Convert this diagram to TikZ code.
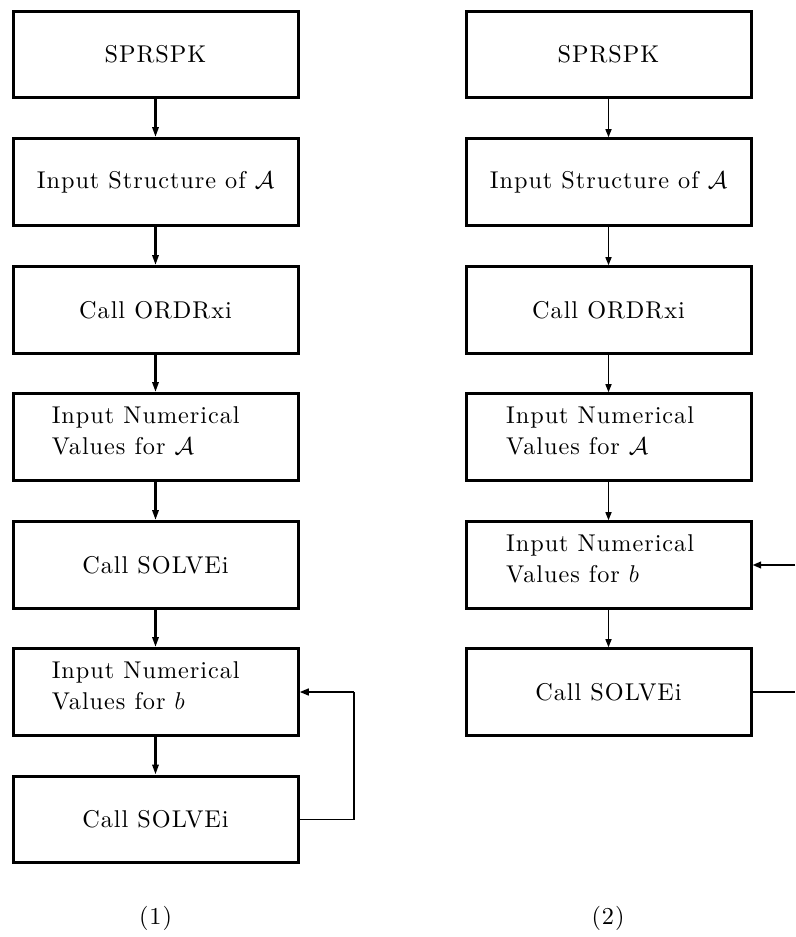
\RequirePackage{fix-cm}
\documentclass[tikz,border=0pt]{standalone}
\usepackage{fontspec}
\setmainfont{lmroman10-regular.otf}[LetterSpace=4]
\usetikzlibrary{arrows.meta}

\tikzset{
  box/.style={draw, line width=2.25pt, minimum width=213.75pt, minimum height=64.9pt,
              inner sep=0pt, font=\flowfont},
  txt/.style={anchor=west, align=left, inner sep=0pt, font=\flowfont},
  thickarrow/.style={line width=2.2pt, -{Triangle[length=7.5pt,width=4.5pt]}},
  thinarrow/.style={line width=1pt, -{Triangle[length=6pt,width=4.5pt]}},
  loopline/.style={line width=1.2pt},
  caption/.style={font=\flowfont, inner sep=0pt}
}
\newcommand{\flowfont}{\fontsize{18.2}{23.4}\selectfont}

\begin{document}
\begin{tikzpicture}[x=0.75pt, y=-0.75pt]
  \useasboundingbox (0,0) rectangle (795,937);

  % ---- flow chart (1) ----
  \node[box] (a1) at (155.5,54.5) {SPRSPK};
  \node[box] (a2) at (155.5,182) {Input Structure of $\mathcal{A}$};
  \node[box] (a3) at (155.5,310) {Call ORDRxi};
  \node[box] (a4) at (155.5,437) {};
  \node[txt] at ([xshift=30pt,yshift=4.5pt]a4.west) {Input Numerical\\Values for $\mathcal{A}$};
  \node[box] (a5) at (155.5,565) {Call SOLVEi};
  \node[box] (a6) at (155.5,692) {};
  \node[txt] at ([xshift=30pt,yshift=4.5pt]a6.west) {Input Numerical\\Values for $b$};
  \node[box] (a7) at (155.5,819.5) {Call SOLVEi};

  \foreach \u/\v in {a1/a2,a2/a3,a3/a4,a4/a5,a5/a6,a6/a7}
    \draw[thickarrow] (\u.south) -- (\v.north);

  \coordinate (ra) at (354,819.5);
  \coordinate (rb) at (354,692);
  \draw[loopline] (a7.east) -- (ra) -- (rb);
  \draw[line width=1.8pt, -{Triangle[length=7pt,width=5pt]}] (rb) -- (a6.east);

  \node[caption] (c1) at (155.5,918) {(1)};

  % ---- flow chart (2) ----
  \node[box] (b1) at (608.5,54.5) {SPRSPK};
  \node[box] (b2) at (608.5,182) {Input Structure of $\mathcal{A}$};
  \node[box] (b3) at (608.5,310) {Call ORDRxi};
  \node[box] (b4) at (608.5,437) {};
  \node[txt] at ([xshift=31pt,yshift=4.5pt]b4.west) {Input Numerical\\Values for $\mathcal{A}$};
  \node[box] (b5) at (608.5,565) {};
  \node[txt] at ([xshift=31pt,yshift=4.5pt]b5.west) {Input Numerical\\Values for $b$};
  \node[box] (b6) at (608.5,692) {Call SOLVEi};

  \foreach \u/\v in {b1/b2,b2/b3,b3/b4,b4/b5,b5/b6}
    \draw[thinarrow] (\u.south) -- (\v.north);

  \coordinate (sa) at (795,692);
  \coordinate (sb) at (795,565);
  \draw[line width=2.2pt] (b6.east) -- (sa);
  \draw[line width=1.5pt, -{Triangle[length=6.5pt,width=5pt]}] (sb) -- (b5.east);

  \node[caption] (c2) at (608,918) {(2)};
\end{tikzpicture}
\end{document}
